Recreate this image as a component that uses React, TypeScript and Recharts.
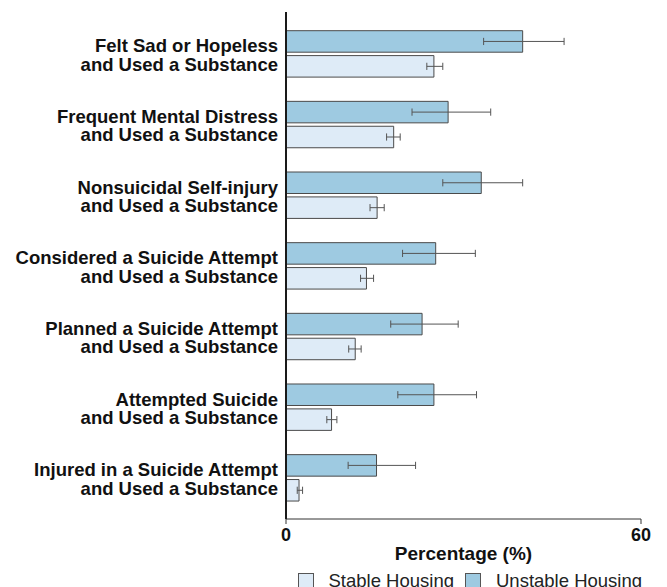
import React from 'react';
import { BarChart, Bar, XAxis, YAxis, ErrorBar, Legend } from 'recharts';

const FONT = '"Liberation Sans", Arial, Helvetica, sans-serif';

const categoryLine1 = [
  'Felt Sad or Hopeless',
  'Frequent Mental Distress',
  'Nonsuicidal Self-injury',
  'Considered a Suicide Attempt',
  'Planned a Suicide Attempt',
  'Attempted Suicide',
  'Injured in a Suicide Attempt',
];
const categoryLine2 = [
  'and Used a Substance',
  'and Used a Substance',
  'and Used a Substance',
  'and Used a Substance',
  'and Used a Substance',
  'and Used a Substance',
  'and Used a Substance',
];

const unstableValues = [40.0, 27.4, 33.0, 25.3, 23.0, 25.0, 15.3];
const unstableLow = [33.4, 21.3, 26.5, 19.7, 17.7, 18.9, 10.5];
const unstableHigh = [47.0, 34.6, 40.0, 32.0, 29.1, 32.2, 21.9];

const stableValues = [25.0, 18.2, 15.4, 13.6, 11.7, 7.7, 2.2];
const stableLow = [23.8, 17.0, 14.2, 12.6, 10.6, 6.9, 1.9];
const stableHigh = [26.5, 19.3, 16.6, 14.8, 12.7, 8.6, 2.8];

const xTicks = [0, 60];
const xDomain = [0, 60];

const seriesNames = { stable: 'Stable Housing', unstable: 'Unstable Housing' };
const colors = { stable: '#deebf7', unstable: '#9ecae1', stroke: '#4a4a4a', err: '#555555' };

const data = categoryLine1.map((name, i) => ({
  name,
  line2: categoryLine2[i],
  unstable: unstableValues[i],
  unstableErr: [unstableValues[i] - unstableLow[i], unstableHigh[i] - unstableValues[i]],
  stable: stableValues[i],
  stableErr: [stableValues[i] - stableLow[i], stableHigh[i] - stableValues[i]],
}));

const YTick = (props: any) => {
  const { x, y, payload } = props;
  const idx = categoryLine1.indexOf(payload.value);
  return (
    <text x={x} y={y} textAnchor="end" fontFamily={FONT} fontSize={18.5} fontWeight="bold" fill="#111">
      <tspan x={x} dy={-1.8}>{payload.value}</tspan>
      <tspan x={x} dy={18.5}>{categoryLine2[idx]}</tspan>
    </text>
  );
};

const XTick = (props: any) => {
  const { x, y, payload } = props;
  return (
    <text x={x} y={y} dy={15} textAnchor="middle" fontFamily={FONT} fontSize={18} fontWeight="bold" fill="#111">
      {payload.value}
    </text>
  );
};

const XLabel = (props: any) => {
  const vb = props.viewBox || {};
  return (
    <text
      x={vb.x + vb.width / 2}
      y={vb.y + 41}
      textAnchor="middle"
      fontFamily={FONT}
      fontSize={19}
      fontWeight="bold"
      fill="#111"
    >
      Percentage (%)
    </text>
  );
};

const legendItems = [
  { label: seriesNames.stable, fill: colors.stable },
  { label: seriesNames.unstable, fill: colors.unstable },
];

const renderLegend = () => (
  <div
    style={{
      display: 'flex',
      alignItems: 'center',
      fontFamily: FONT,
      fontSize: 18.5,
      lineHeight: '21px',
      color: '#222',
      whiteSpace: 'nowrap',
    }}
  >
    {legendItems.map((it, i) => (
      <div key={it.label} style={{ display: 'flex', alignItems: 'center', marginRight: i === 0 ? 11 : 0 }}>
        <span
          style={{
            display: 'inline-block',
            width: 16,
            height: 16,
            boxSizing: 'border-box',
            border: '1px solid #555',
            background: it.fill,
            marginRight: 15,
          }}
        />
        <span>{it.label}</span>
      </div>
    ))}
  </div>
);

export default function App() {
  return (
    <div style={{ position: 'absolute', left: 0, top: 0, width: 667, height: 587, background: '#fff' }}>
      <BarChart
        width={667}
        height={587}
        data={data}
        layout="vertical"
        margin={{ top: 12, right: 26, bottom: 0, left: 0 }}
        barSize={21.5}
        barGap={3.4}
      >
        <XAxis
          type="number"
          domain={xDomain}
          ticks={xTicks}
          height={68}
          axisLine={{ stroke: '#333', strokeWidth: 1 }}
          tickLine={{ stroke: '#333', strokeWidth: 1 }}
          tickSize={5}
          tickMargin={2}
          tick={<XTick />}
          label={<XLabel />}
          interval={0}
        />
        <YAxis
          type="category"
          dataKey="name"
          width={286}
          axisLine={{ stroke: '#1a1a1a', strokeWidth: 2 }}
          tickLine={false}
          tickSize={6}
          tickMargin={2}
          tick={<YTick />}
          interval={0}
          padding={{ top: 6.7, bottom: 5.7 }}
        />
        <Legend
          layout="horizontal"
          verticalAlign="middle"
          align="center"
          wrapperStyle={{ top: 570, left: 297.5, width: 370, height: 21 }}
          content={renderLegend}
        />
        <Bar
          dataKey="unstable"
          name={seriesNames.unstable}
          fill={colors.unstable}
          stroke={colors.stroke}
          strokeWidth={1}
          isAnimationActive={false}
        >
          <ErrorBar dataKey="unstableErr" direction="x" width={3.6} stroke={colors.err} strokeWidth={1} />
        </Bar>
        <Bar
          dataKey="stable"
          name={seriesNames.stable}
          fill={colors.stable}
          stroke={colors.stroke}
          strokeWidth={1}
          isAnimationActive={false}
        >
          <ErrorBar dataKey="stableErr" direction="x" width={3.6} stroke={colors.err} strokeWidth={1} />
        </Bar>
      </BarChart>
    </div>
  );
}
